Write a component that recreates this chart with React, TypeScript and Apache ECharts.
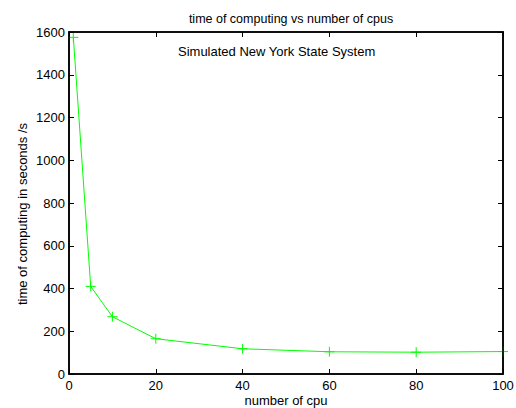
import React, { useEffect, useRef } from "react";
import * as echarts from "echarts";

const cpus = [1, 5, 10, 20, 40, 60, 80, 100];
const times = [1575, 410, 268, 165, 118, 104, 102, 105];
const xTicks = [0, 20, 40, 60, 80, 100];
const yTicks = [0, 200, 400, 600, 800, 1000, 1200, 1400, 1600];

const FONT = "'Liberation Sans', Arial, Helvetica, sans-serif";

export default function App() {
  const ref = useRef<HTMLDivElement>(null);
  useEffect(() => {
    if (!ref.current) return;
    const chart = echarts.init(ref.current, undefined, { renderer: "svg" });
    const baseAxis = {
      axisLine: { show: true, onZero: false, lineStyle: { color: "#000", width: 1.6 } },
      axisTick: { show: true, inside: true, length: 5, lineStyle: { color: "#000", width: 1 } },
      splitLine: { show: false },
    };
    chart.setOption({
      animation: false,
      backgroundColor: "#fff",
      textStyle: { fontFamily: FONT },
      title: {
        text: "time of computing vs number of cpus",
        left: 286,
        top: 7,
        textAlign: "center",
        textStyle: { fontSize: 12.5, fontWeight: "normal", color: "#000", fontFamily: FONT },
      },
      grid: {
        left: 69, right: 13, top: 32, bottom: 34, containLabel: false, outerBoundsMode: "none",
      },
      graphic: [
        {
          type: "text",
          left: 178,
          top: 45,
          style: { text: "Simulated New York State System", fontSize: 13, fill: "#000", fontFamily: FONT },
        },
        {
          type: "text",
          x: 286,
          y: 400,
          style: { text: "number of cpu", fontSize: 13, fill: "#000", fontFamily: FONT, align: "center", verticalAlign: "middle" },
        },
        {
          type: "text",
          x: 22,
          y: 214,
          rotation: Math.PI / 2,
          style: { text: "time of computing in seconds /s", fontSize: 13, fill: "#000", fontFamily: FONT, align: "center", verticalAlign: "middle" },
        },
        {
          type: "rect",
          z: 100,
          shape: { x: 69, y: 32, width: 434, height: 342 },
          style: { fill: "none", stroke: "#000", lineWidth: 1.5 },
          silent: true,
        },
      ],
      xAxis: [
        {
          ...baseAxis,
          type: "value",
          min: xTicks[0],
          max: xTicks[xTicks.length - 1],
          interval: 20,
          axisLabel: { color: "#000", fontSize: 13, margin: 5, fontFamily: FONT },
        },
        {
          ...baseAxis,
          type: "value",
          position: "top",
          min: xTicks[0],
          max: xTicks[xTicks.length - 1],
          interval: 20,
          axisLabel: { show: false },
        },
      ],
      yAxis: [
        {
          ...baseAxis,
          type: "value",
          min: yTicks[0],
          max: yTicks[yTicks.length - 1],
          interval: 200,
          axisLabel: { color: "#000", fontSize: 13, margin: 4, fontFamily: FONT, formatter: (v: number) => String(v) },
        },
        {
          ...baseAxis,
          type: "value",
          position: "right",
          min: yTicks[0],
          max: yTicks[yTicks.length - 1],
          interval: 200,
          axisLabel: { show: false },
        },
      ],
      series: [
        {
          type: "line",
          data: cpus.map((c, i) => [c, times[i]]),
          symbol: "path://M5 0 L5 10 M0 5 L10 5",
          symbolSize: 10,
          showAllSymbol: true,
          clip: false,
          lineStyle: { color: "#00ff00", width: 1 },
          itemStyle: { color: "#00ff00", borderColor: "#00ff00", borderWidth: 1 },
        },
        {
          type: "line",
          xAxisIndex: 1,
          yAxisIndex: 1,
          data: [],
          silent: true,
        },
      ],
    });
    return () => chart.dispose();
  }, []);
  return <div ref={ref} style={{ width: 516, height: 408, position: "absolute", left: 0, top: 0 }} />;
}
